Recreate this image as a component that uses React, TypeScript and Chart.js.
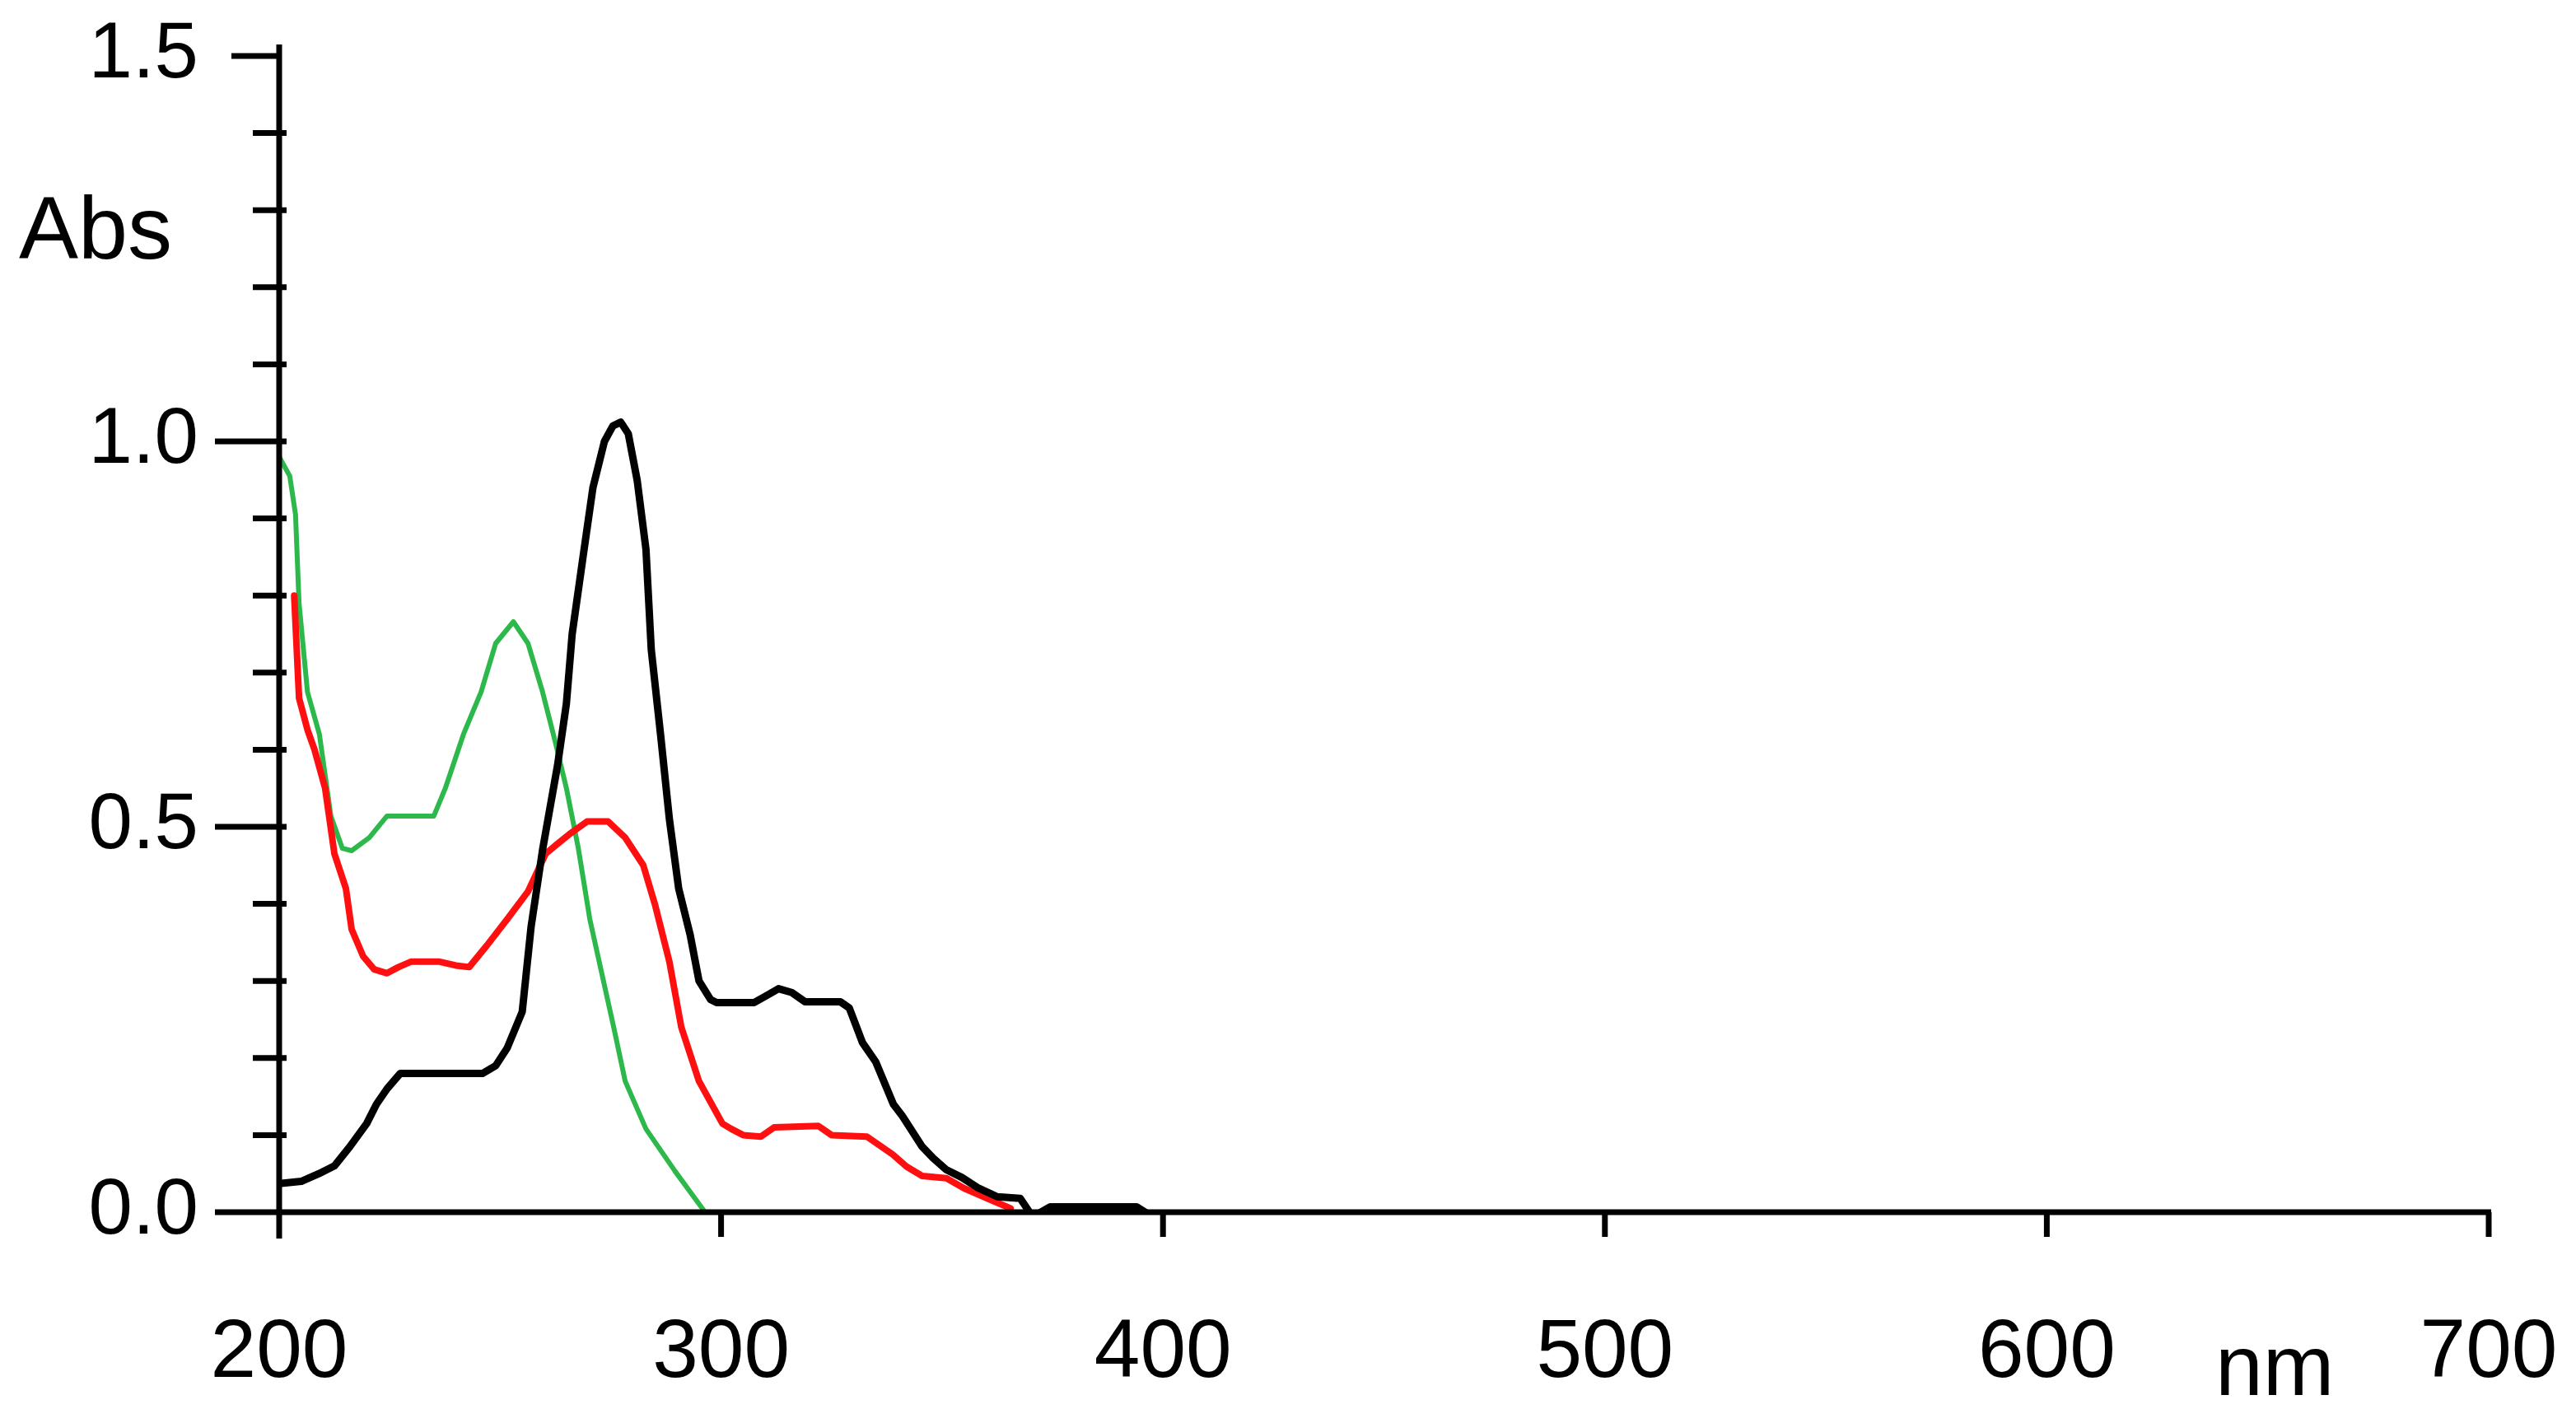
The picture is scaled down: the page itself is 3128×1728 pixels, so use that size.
import React, { useEffect, useRef } from "react";
import { Chart, registerables } from "chart.js";

Chart.register(...registerables);

// ---- data ----
const xTickValues = [200, 300, 400, 500, 600, 700];
const yLabelValues = [0, 0.5, 1.0, 1.5];

const blackNm = [200, 205, 209, 212.5, 216, 219.8, 222, 224.4, 227.4, 246, 249, 251.6, 255, 257, 259.6, 263, 265, 266.3, 269, 271, 273.6, 275.5, 277.3, 279, 281, 283, 284.2, 286.3, 288.3, 290.4, 293, 295, 297.6, 299, 307.5, 310, 313, 316, 319, 327, 329, 332, 335, 339, 341, 345.5, 348, 351, 354.5, 358, 362.5, 367.7, 370.5, 374.5, 394, 396];
const blackAbs = [0.037, 0.04, 0.05, 0.06, 0.085, 0.115, 0.14, 0.16, 0.18, 0.18, 0.19, 0.213, 0.26, 0.37, 0.47, 0.58, 0.66, 0.75, 0.86, 0.94, 1.0, 1.02, 1.025, 1.01, 0.95, 0.86, 0.73, 0.62, 0.51, 0.42, 0.36, 0.3, 0.276, 0.272, 0.272, 0.28, 0.29, 0.285, 0.273, 0.273, 0.265, 0.22, 0.195, 0.14, 0.125, 0.085, 0.07, 0.055, 0.045, 0.032, 0.02, 0.018, -0.006, 0.007, 0.007, 0.0];

const redNm = [203.4, 204.5, 206.4, 208, 210.4, 212.5, 215.1, 216.4, 219, 221.5, 224.4, 227, 229.8, 236.3, 240, 243, 247, 251.6, 256.3, 260.3, 263, 265.6, 269.7, 274.4, 278.3, 282.4, 285, 288.3, 291, 295, 300.3, 302.3, 305, 309, 312, 322, 325, 333, 338.8, 342, 345.5, 351, 355, 361, 365.5];
const redAbs = [0.8, 0.667, 0.626, 0.6, 0.55, 0.465, 0.42, 0.367, 0.332, 0.315, 0.31, 0.318, 0.325, 0.325, 0.32, 0.318, 0.346, 0.38, 0.416, 0.465, 0.478, 0.49, 0.507, 0.507, 0.486, 0.45, 0.4, 0.325, 0.24, 0.17, 0.115, 0.108, 0.1, 0.098, 0.11, 0.112, 0.1, 0.098, 0.075, 0.059, 0.047, 0.044, 0.031, 0.016, 0.005];

const greenNm = [200, 202.4, 203.7, 204.5, 206.4, 209.1, 211.7, 214.3, 216.4, 220.4, 224.4, 235, 237.6, 241.7, 245.7, 249, 253, 256.3, 259.6, 262.4, 265, 267.7, 270.3, 273, 275.7, 278.3, 283, 289.6, 296];
const greenAbs = [0.98, 0.955, 0.905, 0.79, 0.675, 0.62, 0.514, 0.472, 0.469, 0.486, 0.514, 0.514, 0.55, 0.62, 0.675, 0.738, 0.766, 0.738, 0.675, 0.612, 0.55, 0.472, 0.38, 0.31, 0.24, 0.17, 0.108, 0.053, 0.003];

const yAxisTitle = "Abs";
const xAxisTitle = "nm";

const toPoints = (xs: number[], ys: number[]) => xs.map((x, i) => ({ x, y: ys[i] }));

const W = 3128;
const H = 1728;
const FONT = "'Liberation Sans', Arial, sans-serif";

const axesPlugin = {
  id: "spectroAxes",
  afterDraw(chart: any) {
    const { ctx, scales } = chart;
    const xs = scales.x;
    const ys = scales.y;
    const x0 = xs.getPixelForValue(xs.min);
    const x1 = xs.getPixelForValue(xs.max);
    const y0 = ys.getPixelForValue(0);
    const yTop = ys.getPixelForValue(ys.max);
    ctx.save();
    ctx.strokeStyle = "#000";
    ctx.lineWidth = 7;
    ctx.lineCap = "butt";
    ctx.beginPath();
    // axis lines
    ctx.moveTo(x0, yTop - 14);
    ctx.lineTo(x0, y0 + 32);
    ctx.moveTo(x0 - 78, y0);
    ctx.lineTo(x1 + 3, y0);
    // y ticks
    ys.ticks.forEach((t: any) => {
      const v = t.value;
      const py = ys.getPixelForValue(v);
      const major = Math.abs(v * 2 - Math.round(v * 2)) < 1e-6;
      if (major) {
        ctx.moveTo(x0 - (v >= ys.max - 1e-6 ? 58 : 78), py);
        ctx.lineTo(x0 + (v >= ys.max - 1e-6 ? 0 : 9), py);
      } else {
        ctx.moveTo(x0 - 32, py);
        ctx.lineTo(x0 + 9, py);
      }
    });
    // x ticks
    xs.ticks.forEach((t: any) => {
      const px = xs.getPixelForValue(t.value);
      ctx.moveTo(px, y0);
      ctx.lineTo(px, y0 + 30);
    });
    ctx.stroke();
    // axis titles
    ctx.fillStyle = "#000";
    ctx.textBaseline = "alphabetic";
    ctx.textAlign = "left";
    ctx.font = `108px ${FONT}`;
    ctx.fillText(yAxisTitle, x0 - 316, yTop + 246);
    ctx.font = `104px ${FONT}`;
    ctx.fillText(xAxisTitle, x1 - 332, y0 + 222);
    ctx.restore();
  },
};

const zeroPad = (s: any) => {
  s.paddingTop = 0;
  s.paddingBottom = 0;
  s.paddingLeft = 0;
  s.paddingRight = 0;
};

export default function App() {
  const ref = useRef<HTMLCanvasElement | null>(null);

  useEffect(() => {
    if (!ref.current) return;
    const chart = new Chart(ref.current, {
      type: "line",
      data: {
        datasets: [
          { label: "black", data: toPoints(blackNm, blackAbs), borderColor: "#000000", borderWidth: 9 },
          { label: "red", data: toPoints(redNm, redAbs), borderColor: "#ff1010", borderWidth: 8 },
          { label: "green", data: toPoints(greenNm, greenAbs), borderColor: "#2cb84a", borderWidth: 6 },
        ],
      },
      options: {
        responsive: false,
        devicePixelRatio: 1,
        animation: false,
        elements: { point: { radius: 0 }, line: { tension: 0, borderJoinStyle: "round", borderCapStyle: "round" } },
        layout: { padding: { left: 0, top: 68, right: 106, bottom: 0 } },
        plugins: { legend: { display: false }, tooltip: { enabled: false }, title: { display: false } },
        scales: {
          x: {
            type: "linear",
            min: 200,
            max: 700,
            afterBuildTicks: (s: any) => {
              s.ticks = xTickValues.map((v) => ({ value: v }));
            },
            grid: { display: false, drawTicks: false },
            border: { display: false },
            ticks: {
              autoSkip: false,
              maxRotation: 0,
              padding: 112,
              color: "#000",
              font: { family: FONT, size: 100 },
              callback: (v: any) => String(v),
            },
            afterFit: (s: any) => {
              s.height = 256;
              zeroPad(s);
            },
          },
          y: {
            type: "linear",
            min: 0,
            max: 1.5,
            ticks: {
              stepSize: 0.1,
              autoSkip: false,
              padding: 98,
              color: "#000",
              font: { family: FONT, size: 96 },
              callback: (v: any) => {
                const n = Number(v);
                return yLabelValues.some((m) => Math.abs(m - n) < 1e-6) ? n.toFixed(1) : "";
              },
            },
            grid: { display: false, drawTicks: false },
            border: { display: false },
            afterFit: (s: any) => {
              s.width = 339;
              zeroPad(s);
            },
          },
        },
      },
      plugins: [axesPlugin],
    });
    return () => chart.destroy();
  }, []);

  return (
    <div style={{ position: "absolute", left: 0, top: 0, width: W, height: H, background: "#fff" }}>
      <canvas ref={ref} width={W} height={H} style={{ display: "block", width: W, height: H }} />
    </div>
  );
}
